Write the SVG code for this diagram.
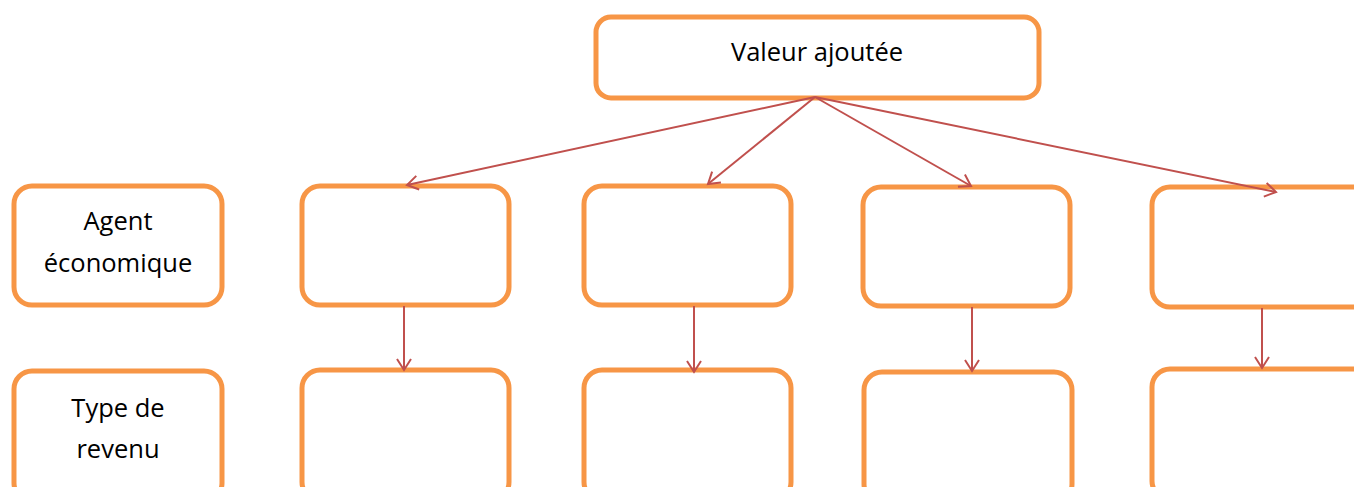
<svg xmlns="http://www.w3.org/2000/svg" width="1354" height="487" viewBox="0 0 1354 487">
<style>
.box{fill:#fff;stroke:#F79646;stroke-width:5}
.lbl{font-family:"Open Sans","Liberation Sans",sans-serif;font-size:25.5px;fill:#000;text-anchor:middle}
.con{stroke:#C0504D;stroke-width:2;fill:none}
</style>
<defs>
<marker id="ah" markerUnits="userSpaceOnUse" markerWidth="20" markerHeight="20" viewBox="-12 -10 14 20" refX="0" refY="0" orient="auto">
<path d="M-11,-7 L0,0 L-11,7" fill="none" stroke="#C0504D" stroke-width="2"/>
</marker>
</defs>
<rect width="1354" height="487" fill="#fff"/>
<g id="valeur"><rect class="box" x="596" y="17" width="443" height="81" rx="15"/><text class="lbl" x="817" y="61">Valeur ajoutée</text></g>
<g id="agent"><rect class="box" x="14" y="186" width="208" height="119" rx="18"/><text class="lbl" x="118" y="230">Agent</text><text class="lbl" x="118" y="272">économique</text></g>
<g id="type"><rect class="box" x="14" y="371" width="208" height="130" rx="18"/><text class="lbl" x="118" y="417">Type de</text><text class="lbl" x="118" y="458">revenu</text></g>
<g id="a1"><rect class="box" x="302" y="186" width="207" height="119" rx="18"/></g>
<g id="b1"><rect class="box" x="584" y="186" width="207" height="119" rx="18"/></g>
<g id="c1"><rect class="box" x="863" y="187" width="207" height="119" rx="18"/></g>
<g id="d1"><rect class="box" x="1152" y="187" width="220" height="120" rx="18"/></g>
<g id="a2"><rect class="box" x="302" y="370" width="207" height="130" rx="18"/></g>
<g id="b2"><rect class="box" x="584" y="370" width="207" height="130" rx="18"/></g>
<g id="c2"><rect class="box" x="864" y="372" width="208" height="130" rx="18"/></g>
<g id="d2"><rect class="box" x="1152" y="369" width="220" height="130" rx="18"/></g>
<g id="connectors">
<line class="con" x1="815" y1="97" x2="407" y2="185" marker-end="url(#ah)"/>
<line class="con" x1="815" y1="97" x2="708" y2="184" marker-end="url(#ah)"/>
<line class="con" x1="815" y1="97" x2="971" y2="186" marker-end="url(#ah)"/>
<line class="con" x1="815" y1="97" x2="1276" y2="192" marker-end="url(#ah)"/>
<line class="con" x1="404" y1="306" x2="404" y2="370" marker-end="url(#ah)"/>
<line class="con" x1="694" y1="306" x2="694" y2="372" marker-end="url(#ah)"/>
<line class="con" x1="972" y1="307" x2="972" y2="371" marker-end="url(#ah)"/>
<line class="con" x1="1262" y1="308" x2="1262" y2="368" marker-end="url(#ah)"/>
</g>
</svg>
